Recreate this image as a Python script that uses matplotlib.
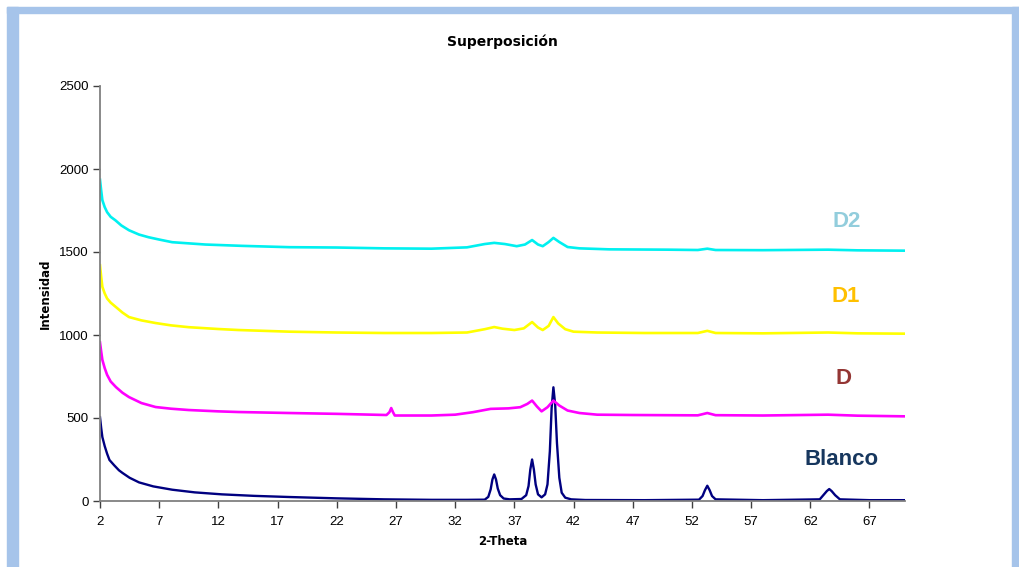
import matplotlib
matplotlib.use('Agg')
import matplotlib.pyplot as plt
from matplotlib.patches import Rectangle

# diffraction patterns (2-theta, intensity)
blanco_x = [2.0, 2.1, 2.2, 2.4, 2.6, 2.8, 3.2, 3.6, 3.9, 4.5, 5.3, 6.5, 8.1, 10, 12.3, 15, 18, 22, 26, 30, 33,
            34.5, 34.8, 35.0, 35.15, 35.3, 35.45, 35.6, 35.8, 36.1, 36.6,
            37.6, 38.0, 38.2, 38.35, 38.5, 38.65, 38.8, 39.0, 39.3,
            39.6, 39.8, 40.0, 40.15, 40.3, 40.45, 40.6, 40.8, 41.0, 41.3, 41.8,
            43, 48, 52.6, 52.9, 53.1, 53.3, 53.5, 53.7, 54.0, 58,
            62.8, 63.1, 63.4, 63.6, 63.8, 64.1, 64.5, 67, 70]
blanco_y = [505, 440, 385, 330, 285, 247, 215, 185, 169, 140, 112, 88, 68, 52, 40, 31, 24, 16, 10, 7, 7,
            8, 25, 70, 130, 160, 130, 75, 35, 15, 10,
            12, 35, 90, 190, 250, 190, 100, 40, 22,
            40, 100, 300, 560, 685, 580, 350, 140, 50, 20, 10,
            6, 5, 8, 30, 65, 92, 65, 30, 10, 5,
            10, 35, 60, 72, 60, 35, 10, 5, 5]

d_x = [2.0, 2.1, 2.2, 2.4, 2.6, 2.9, 3.35, 3.9, 4.45, 5.5, 6.7, 8, 9.5, 12, 13.7, 18, 22, 26.2, 26.45, 26.6, 26.75, 26.9,
       30, 32, 33.5, 35, 36.5, 37.5, 38.1, 38.5, 38.9, 39.3, 39.8, 40.3, 40.8, 41.5, 42.5, 44, 47, 52.5,
       53.3, 54, 58, 63.5, 66, 70]
d_y = [955, 900, 850, 800, 760, 720, 686, 652, 626, 590, 566, 556, 548, 540, 536, 530, 525, 518, 535, 560, 535, 515,
       515, 520, 535, 555, 558, 565, 585, 605, 570, 540, 565, 605, 575, 545, 530, 520, 518, 516,
       530, 517, 515, 520, 514, 510]

d1_x = [2.0, 2.1, 2.2, 2.4, 2.6, 2.9, 3.35, 3.9, 4.45, 5.5, 6.7, 8, 9.5, 12, 13.7, 18, 22, 26, 30, 33, 34.5, 35.3,
        36, 37, 37.8, 38.5, 39.0, 39.4, 39.9, 40.3, 40.7, 41.3, 42, 44, 48, 52.5, 53.3, 54, 58,
        63.5, 66, 70]
d1_y = [1420, 1350, 1290, 1250, 1220, 1195, 1168, 1135, 1108, 1088, 1072, 1058, 1047, 1036, 1030, 1020, 1015, 1012, 1012, 1015, 1035, 1048,
        1038, 1030, 1040, 1078, 1045, 1030, 1055, 1108, 1070, 1035, 1020, 1015, 1012, 1012, 1025, 1012, 1010,
        1015, 1010, 1008]

d2_x = [2.0, 2.1, 2.2, 2.4, 2.6, 2.9, 3.3, 3.8, 4.45, 5.3, 6.1, 7, 8.1, 10.9, 14, 18, 22, 26, 30, 33, 34.5, 35.3,
        36.2, 37.2, 37.9, 38.5, 39.0, 39.4, 39.9, 40.3, 40.8, 41.5, 42.5, 45, 50, 52.5, 53.3, 54,
        58, 63.5, 66, 70]
d2_y = [1935, 1870, 1812, 1770, 1740, 1712, 1691, 1660, 1631, 1605, 1589, 1575, 1559, 1545, 1537, 1529, 1527, 1522, 1520, 1528, 1548, 1555,
        1548, 1535, 1545, 1572, 1545, 1535, 1560, 1585, 1560, 1530, 1522, 1516, 1514, 1512, 1520, 1512,
        1511, 1514, 1510, 1508]

x_ticks = [2, 7, 12, 17, 22, 27, 32, 37, 42, 47, 52, 57, 62, 67]
y_ticks = [0, 500, 1000, 1500, 2000, 2500]

plt.rcParams['font.family'] = ['Liberation Sans', 'DejaVu Sans']

fig = plt.figure(figsize=(10.2, 5.67), dpi=100)
ax = fig.add_axes([100 / 1020, 1 - 501 / 567, 805 / 1020, 415 / 567])

ax.plot(blanco_x, blanco_y, color='#000080', lw=1.7)
ax.plot(d_x, d_y, color='#ff00ff', lw=1.9)
ax.plot(d1_x, d1_y, color='#ffff00', lw=1.9)
ax.plot(d2_x, d2_y, color='#00f0f0', lw=1.9)

ax.set_xlim(2, 70)
ax.set_ylim(0, 2500)
ax.set_xticks(x_ticks)
ax.set_yticks(y_ticks)
for s in ['top', 'right']:
    ax.spines[s].set_visible(False)
for s in ['left', 'bottom']:
    ax.spines[s].set_color('#808080')
    ax.spines[s].set_linewidth(1.3)
ax.tick_params(axis='both', length=5, width=1, color='#404040', labelsize=9.5)
ax.tick_params(axis='x', pad=6)
ax.tick_params(axis='y', pad=3)

ax.set_title('Superposición', fontsize=10, fontweight='bold', family='DejaVu Sans', pad=29)
ax.set_xlabel('2-Theta', fontsize=8.5, fontweight='bold', family='DejaVu Sans', labelpad=5)
ax.set_ylabel('Intensidad', fontsize=8.5, fontweight='bold', family='DejaVu Sans', labelpad=5)

labels = [('D2', 65.1, 1681, '#92cddc'), ('D1', 65.0, 1229, '#ffc000'),
          ('D', 64.8, 735, '#943634'), ('Blanco', 64.6, 253, '#17375e')]
for txt, lx, ly, c in labels:
    ax.text(lx, ly, txt, color=c, fontsize=16, fontweight='bold', ha='center', va='center')

# light blue frame around the picture
bc = '#a6c4ea'
fig.patches.append(Rectangle((7 / 1020, 0), 11 / 1020, 560 / 567, transform=fig.transFigure, color=bc, zorder=0))
fig.patches.append(Rectangle((7 / 1020, 554 / 567), 1013 / 1020, 6 / 567, transform=fig.transFigure, color=bc, zorder=0))
fig.patches.append(Rectangle((1012 / 1020, 0), 8 / 1020, 560 / 567, transform=fig.transFigure, color=bc, zorder=0))

plt.savefig('out.png', dpi=100)
